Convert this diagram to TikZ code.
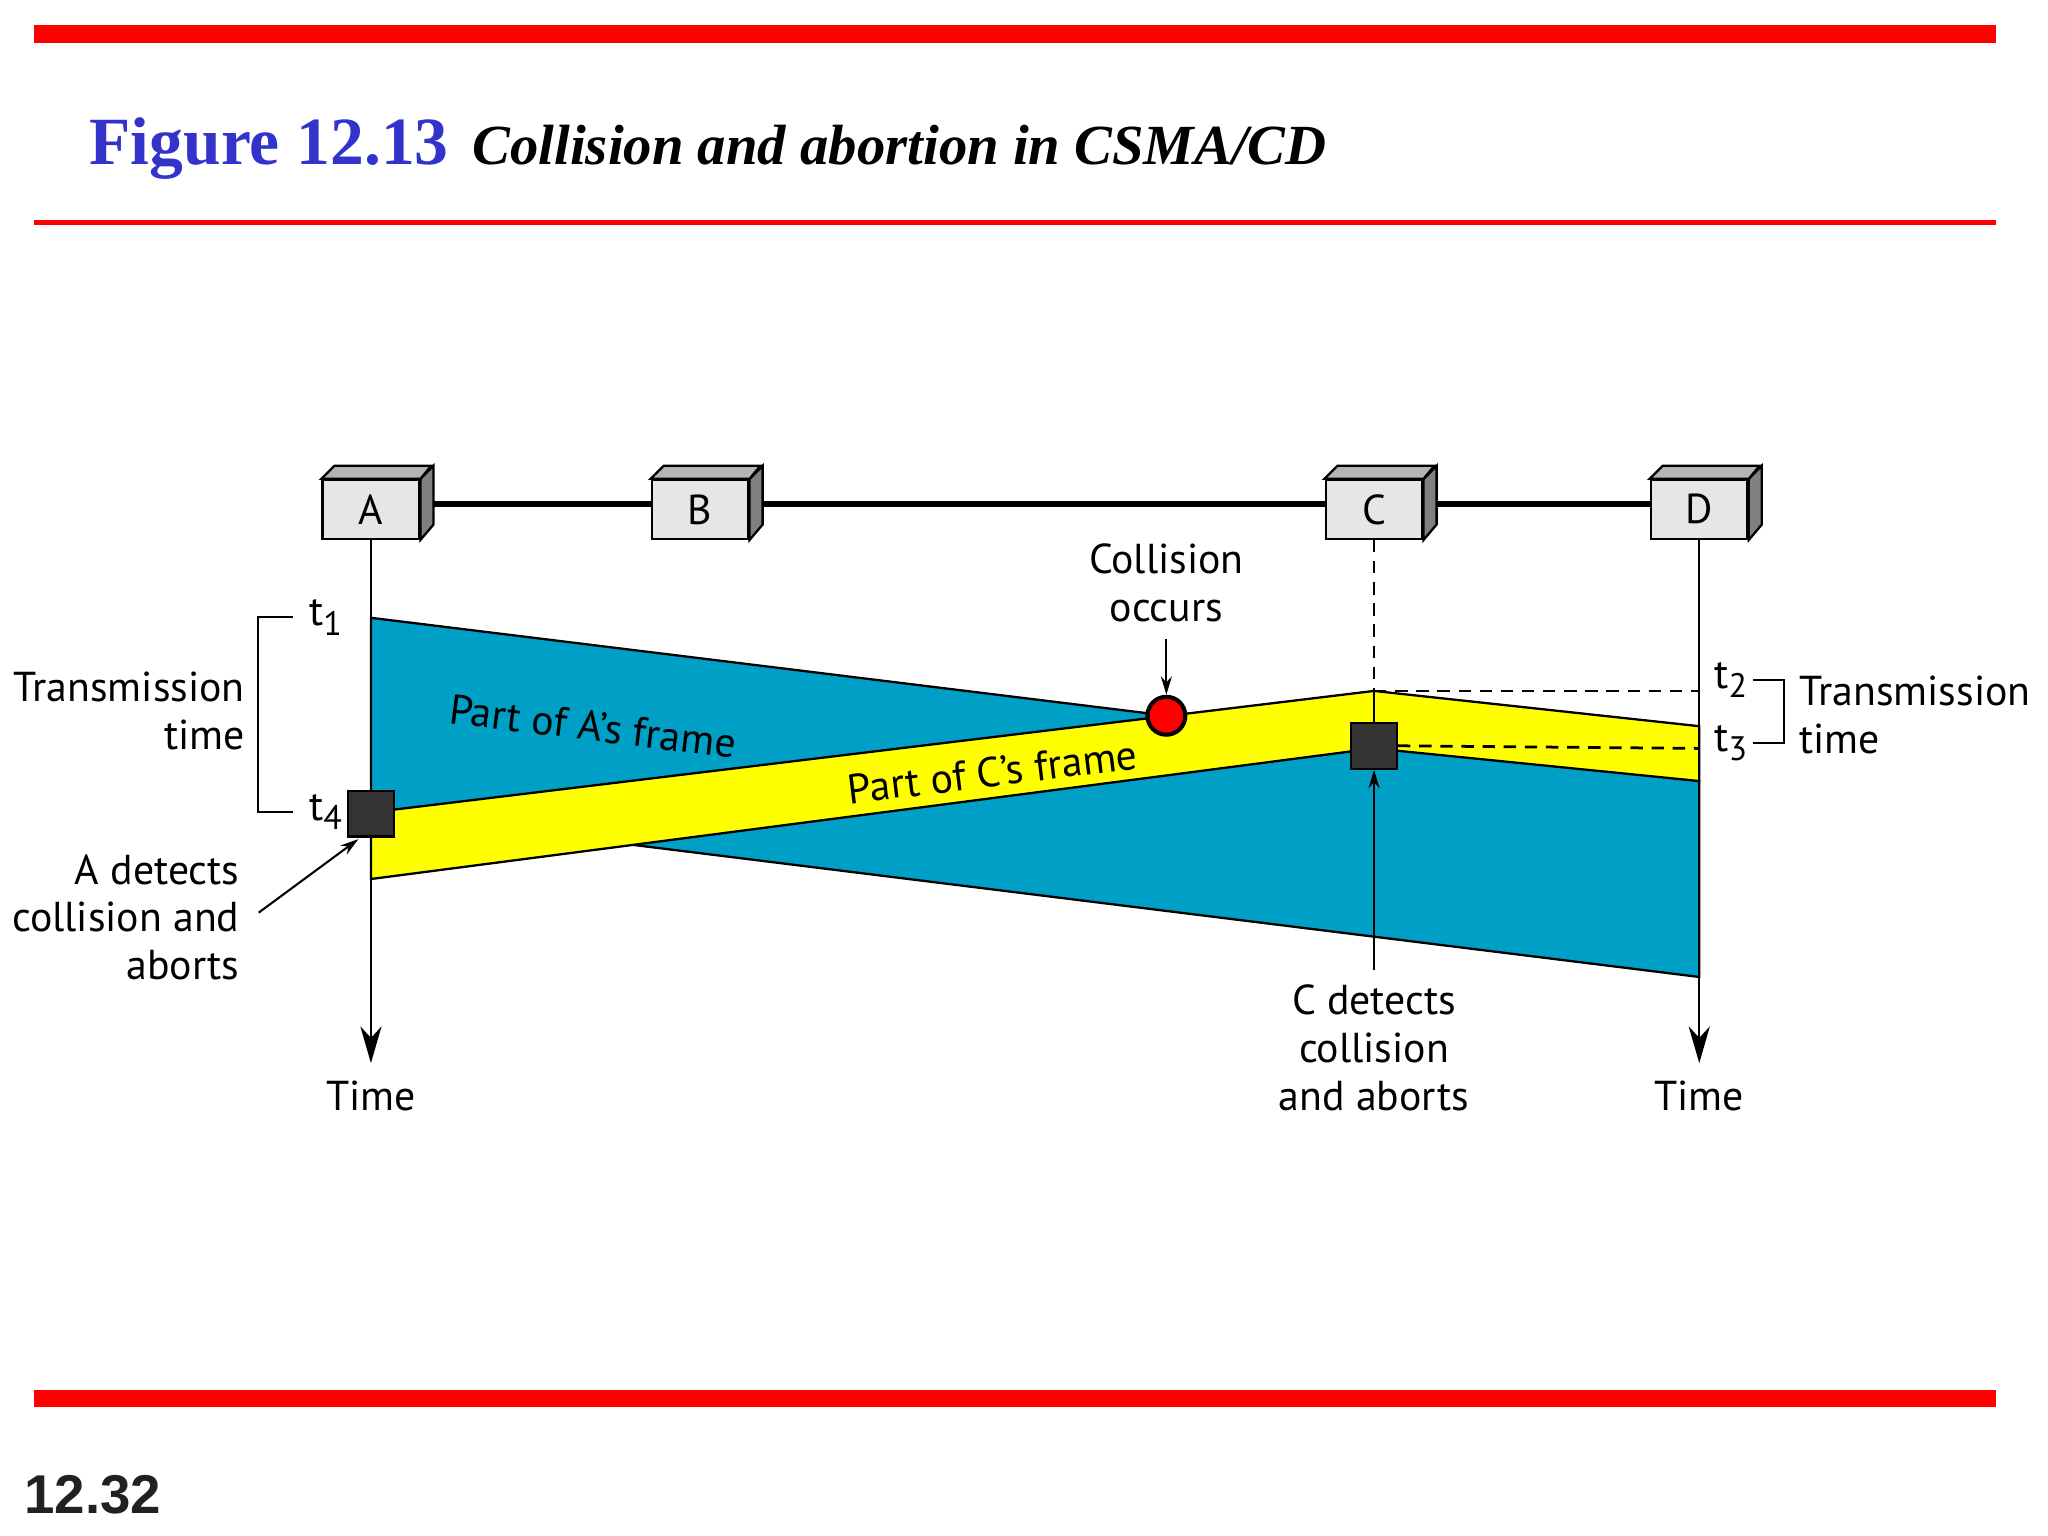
\documentclass[tikz,border=0pt]{standalone}
\usepackage{fontspec}
\setmainfont{PT Sans}
\newfontfamily\titlefont{Liberation Serif}
\newfontfamily\pagefont{Liberation Sans}
\usetikzlibrary{arrows.meta}
\definecolor{framea}{RGB}{0,160,198}
\definecolor{framec}{RGB}{255,255,0}
\definecolor{figblue}{RGB}{51,51,204}
\definecolor{boxfront}{RGB}{230,230,230}
\definecolor{boxtop}{RGB}{180,180,180}
\definecolor{boxside}{RGB}{128,128,128}
\newcommand{\tsub}[1]{t\raisebox{-0.45ex}{\fontsize{7.4}{8}\selectfont #1}}
\begin{document}
\begin{tikzpicture}[x=0.01cm, y=-0.01cm,
    txt/.style={font=\fontsize{9.1}{10.4}\selectfont, inner sep=0pt},
    station/.style={draw, fill=boxfront, line width=0.5pt, minimum width=0.74cm,
      minimum height=0.45cm, inner sep=0pt, font=\fontsize{9.1}{10.4}\selectfont},
    detect/.style={draw, fill=black!80, line width=0.5pt, minimum size=0.35cm, inner sep=0pt},
    arr/.style={line width=0.45pt, -{Stealth[length=8pt, width=4.6pt, inset=2.5pt]}},
    small arr/.style={line width=0.45pt, -{Stealth[length=4pt, width=2.4pt]}},
    dashline/.style={dash pattern=on 2.7pt off 1.9pt, line width=0.6pt}]
  \useasboundingbox (0,0) rectangle (1568,1176);
  \draw[red, line width=3.8pt] (26,26) -- (1528,26);
  \draw[red, line width=1.1pt] (26,170) -- (1528,170);
  \draw[red, line width=3.7pt] (26,1071) -- (1528,1071);
  \node[anchor=base west, inner sep=0pt, text=figblue,
    font=\titlefont\bfseries\fontsize{14.7}{17}\selectfont] (fig) at (68,126) {Figure 12.13};
  \node[anchor=base west, inner sep=0pt,
    font=\titlefont\bfseries\itshape\fontsize{12.35}{15}\selectfont] (caption)
    at ([xshift=4.8pt]fig.base east) {Collision and abortion in CSMA/CD};
  \node[anchor=base west, inner sep=0pt, text=black!87,
    font=\pagefont\bfseries\fontsize{11.9}{14}\selectfont] (page) at (18,1159) {12.32};
  % stations on the bus
  \foreach \n/\x in {A/284, B/536, C/1052, D/1301}
    \node[station] (\n) at (\x,390) {\n};
  \draw[line width=1.3pt] ([yshift=1.1pt]A.east) -- ([yshift=1.1pt]B.west)
    ([yshift=1.1pt]B.east) -- ([yshift=1.1pt]C.west) ([yshift=1.1pt]C.east) -- ([yshift=1.1pt]D.west);
  \foreach \n in {A, B, C, D} {
    \filldraw[fill=boxside, line width=0.5pt] (\n.north east) -- ++(10,-10) -- ++(0,45) -- (\n.south east) -- cycle;
    \filldraw[fill=boxtop, line width=0.5pt] (\n.north west) -- ++(10,-10) -- ++(74,0) -- (\n.north east) -- cycle;
  }
  \coordinate (a1) at (284,473);
  \coordinate (a4) at (284,622);
  \coordinate (a5) at (284,673);
  \coordinate (t2C) at (1052,529);
  \coordinate (t3C) at (1052,573);
  \coordinate (t2D) at (1301,529);
  \coordinate (t3D) at (1301,573);
  \coordinate (d2) at (1301,556);
  \coordinate (d3) at (1301,598);
  \coordinate (d4) at (1301,748);
  \filldraw[fill=framea, line width=0.5pt] (a1) -- (d3) -- (d4) -- (a4) -- cycle;
  \filldraw[fill=framec, line width=0.5pt] (a4) -- (t2C) -- (d2) -- (d3) -- (t3C) -- (a5) -- cycle;
  \node[txt, rotate=-7] (partA) at (454,556) {Part of A’s frame};
  \node[txt, rotate=7] (partC) at (760,591) {Part of C’s frame};
  \node[txt, anchor=base] (timeA) at (284,850) {Time};
  \node[txt, anchor=base] (timeD) at (1301,850) {Time};
  \draw[arr] (A.south) -- ([yshift=3.6pt]timeA.north);
  \draw[arr] (D.south) -- ([yshift=3.6pt]timeD.north);
  \draw[dashline] (C.south) -- (t2C);
  \draw[dashline] (t2C) -- (t2D);
  \node[detect] (sqA) at (284,623) {};
  \node[detect] (sqC) at (1052,571) {};
  \draw[line width=0.45pt] (t2C) -- (sqC.north);
  \draw[dashline] (sqC.east) -- (t3D);
  \node[circle, draw, fill=red, line width=0.9pt, minimum size=0.29cm, inner sep=0pt] (coll) at (893,548) {};
  \node[txt, align=center, anchor=base] (colltxt) at (893,476) {Collision\\occurs};
  \draw[small arr] ([yshift=-3.4pt]colltxt.south) -- (coll.north);
  % time labels and brackets
  \node[txt, anchor=base west] (t1) at (236,479) {\tsub{1}};
  \node[txt, anchor=base west] (t4) at (236,628) {\tsub{4}};
  \node[txt, anchor=base west] (t2) at (1312,527) {\tsub{2}};
  \node[txt, anchor=base west] (t3) at (1312,575) {\tsub{3}};
  \draw[line width=0.45pt] ([xshift=-3.3pt]t1.west) -- ++(-27,0) |- ([xshift=-3.3pt]t4.west);
  \draw[line width=0.45pt] ([xshift=1pt]t2.east) -- ++(24,0) |- ([xshift=1pt]t3.east);
  \node[txt, align=right, anchor=base east] (trL) at (188,574) {Transmission\\time};
  \node[txt, align=left, anchor=base west] (trR) at (1377,577) {Transmission\\time};
  \node[txt, align=right, anchor=base east] (detA) at (184,750) {A detects\\collision and\\aborts};
  \draw[small arr] ([xshift=4pt, yshift=1pt]detA.east) -- ([xshift=2.5pt, yshift=-0.3pt]sqA.south west);
  \node[txt, align=center, anchor=base] (detC) at (1052,850) {C detects\\collision\\and aborts};
  \draw[small arr] ([yshift=3pt]detC.north) -- (sqC.south);
\end{tikzpicture}
\end{document}
